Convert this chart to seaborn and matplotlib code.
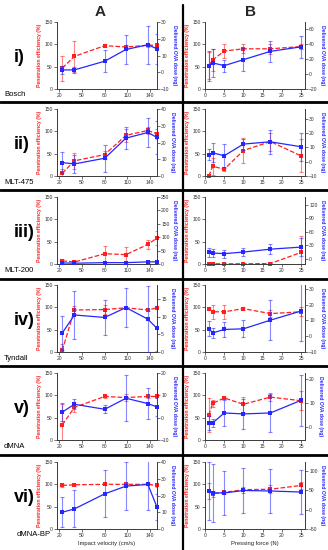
import matplotlib
matplotlib.use("Agg")
import matplotlib.pyplot as plt
import seaborn as sns
import pandas as pd
from matplotlib.lines import Line2D

sns.set_theme(style="white")
plt.rcParams["font.family"] = ["Liberation Sans", "DejaVu Sans"]

# ---------------- data ----------------
velocity = [24, 40, 80, 108, 137, 149]          # impact velocity (cm/s)
force = [1, 2, 5, 10, 17, 25]                    # pressing force (N)
velocity_ticks = [20, 50, 80, 110, 140]
force_ticks = [0, 5, 10, 15, 20, 25]
devices = ["Bosch", "MLT-475", "MLT-200", "Tyndall", "dMNA", "dMNA-BP"]
row_labels = ["i)", "ii)", "iii)", "iv)", "v)", "vi)"]

# Bosch
bosch_pen_A = [47, 73, 97, 94, 98, 98]
bosch_pen_A_err = [28, 34, 3, 4, 3, 3]
bosch_dose_A = [1.4, 1.4, 6.6, 13.6, 16.4, 14]
bosch_dose_A_err = [2.5, 2, 6.6, 8.5, 11.3, 9]
bosch_pen_B = [52, 65, 85, 90, 90, 95]
bosch_pen_B_err = [30, 25, 15, 10, 11, 6]
bosch_dose_B = [11, 14.7, 11, 19, 30, 36]
bosch_dose_B_err = [20, 19, 8, 15.5, 14.4, 14.4]

# MLT-475
mlt475_pen_A = [6, 34, 48, 91, 102, 94]
mlt475_pen_A_err = [9, 18, 9, 15, 7, 11]
mlt475_dose_A = [8, 7.2, 10.6, 22.6, 26, 23]
mlt475_dose_A_err = [6.5, 5.5, 8, 6.5, 8.7, 10]
mlt475_pen_B = [0, 22, 15, 57, 77, 45]
mlt475_pen_B_err = [1, 19, 4, 28, 20, 37]
mlt475_dose_B = [5, 6.3, 4.2, 12.4, 14, 10.5]
mlt475_dose_B_err = [3.7, 6.8, 8, 3.9, 8.5, 9.8]

# MLT-200
mlt200_pen_A = [7, 4.5, 23, 21, 44, 58]
mlt200_pen_A_err = [5, 4, 18, 17, 10, 15]
mlt200_dose_A = [4, 3, 5, 5, 8, 8]
mlt200_dose_A_err = [3, 3, 4, 4, 5, 5]
mlt200_pen_B = [0.5, 0.5, 0.5, 0.5, 1, 26]
mlt200_pen_B_err = [0.5, 0.5, 0.5, 0.5, 1, 37]
mlt200_dose_B = [14, 12.4, 11, 14.6, 21, 25.6]
mlt200_dose_B_err = [10, 8, 9, 9, 11, 20]

# Tyndall
tyndall_pen_A = [4, 94, 95, 99, 94, 99]
tyndall_pen_A_err = [14, 10, 11, 2, 3, 2]
tyndall_dose_A = [5.4, 10.5, 9.8, 12.6, 9.3, 6.7]
tyndall_dose_A_err = [4.8, 6.8, 4.9, 5.5, 9.3, 6.4]
tyndall_pen_B = [97, 90, 90, 97, 86, 90]
tyndall_pen_B_err = [4, 15, 15, 4, 8, 10]
tyndall_dose_B = [4.9, 2.1, 4.3, 4.7, 10.2, 16]
tyndall_dose_B_err = [4.7, 3, 5, 5.5, 12.8, 19]

# dMNA
dmna_pen_A = [34, 73, 97.5, 95, 97.5, 97.5]
dmna_pen_A_err = [47, 11, 4, 7, 4, 4]
dmna_dose_A = [2.5, 6, 3.75, 8.7, 6.3, 4.8]
dmna_dose_A_err = [4, 2.2, 1.8, 10.3, 6.8, 4.1]
dmna_pen_B = [56, 82, 94, 80, 96, 88]
dmna_pen_B_err = [37, 7, 3, 17, 9, 21]
dmna_dose_B = [1.8, 1.8, 5.9, 5.5, 5.9, 11.1]
dmna_dose_B_err = [2.7, 1.8, 5.5, 6, 7.9, 10.5]

# dMNA-BP
dmnabp_pen_A = [97.5, 99, 100, 100, 100, 97.5]
dmnabp_pen_A_err = [3, 2, 2, 2, 2, 3]
dmnabp_dose_A = [10, 12, 21, 25.6, 26.6, 13]
dmnabp_dose_A_err = [9, 11, 14, 14.5, 15, 7.6]
dmnabp_pen_B = [85, 79, 82, 88, 89, 97.5]
dmnabp_pen_B_err = [17, 7, 4, 7, 9, 7]
dmnabp_dose_B = [48.7, 44, 43.5, 50, 48.7, 46]
dmnabp_dose_B_err = [75, 76, 56, 59, 56, 58]

panels_A = [
    (bosch_pen_A, bosch_pen_A_err, bosch_dose_A, bosch_dose_A_err),
    (mlt475_pen_A, mlt475_pen_A_err, mlt475_dose_A, mlt475_dose_A_err),
    (mlt200_pen_A, mlt200_pen_A_err, mlt200_dose_A, mlt200_dose_A_err),
    (tyndall_pen_A, tyndall_pen_A_err, tyndall_dose_A, tyndall_dose_A_err),
    (dmna_pen_A, dmna_pen_A_err, dmna_dose_A, dmna_dose_A_err),
    (dmnabp_pen_A, dmnabp_pen_A_err, dmnabp_dose_A, dmnabp_dose_A_err),
]
panels_B = [
    (bosch_pen_B, bosch_pen_B_err, bosch_dose_B, bosch_dose_B_err),
    (mlt475_pen_B, mlt475_pen_B_err, mlt475_dose_B, mlt475_dose_B_err),
    (mlt200_pen_B, mlt200_pen_B_err, mlt200_dose_B, mlt200_dose_B_err),
    (tyndall_pen_B, tyndall_pen_B_err, tyndall_dose_B, tyndall_dose_B_err),
    (dmna_pen_B, dmna_pen_B_err, dmna_dose_B, dmna_dose_B_err),
    (dmnabp_pen_B, dmnabp_pen_B_err, dmnabp_dose_B, dmnabp_dose_B_err),
]

# right-axis (dose) scales
dose_lim_A = [(-10, 30), (0, 40), (0, 250), (0, 19), (-10, 20), (0, 40)]
dose_ticks_A = [[-10, 0, 10, 20, 30], [0, 10, 20, 30, 40], [0, 50, 100, 150, 200, 250],
                [0, 5, 10, 15], [-10, 0, 10, 20], [0, 10, 20, 30, 40]]
dose_lim_B = [(-20, 69), (-10, 37), (-12, 137), (-10, 32.5), (-5.2, 22.3), (-50, 124)]
dose_ticks_B = [[-20, 0, 20, 40, 60], [-10, 0, 10, 20, 30], [0, 30, 60, 90, 120],
                [-10, 0, 10, 20, 30], [0, 10, 20], [-50, 0, 50, 100]]

# ---------------- style / layout ----------------
RED = "#ff1f1f"
BLUE = "#2626ff"
SPINE = "#3a3a3a"
W, H = 328, 550
row_tops = [22, 109, 197, 285, 373, 462]
ax_h = 67
ax_w = 100
col_left = [57, 205]
sep_lines = [102, 190, 279, 366, 455]

fig = plt.figure(figsize=(W / 100, H / 100), dpi=100)
fig.patch.set_facecolor("white")


def style_axis(ax, side):
    for s in ["top", "left", "right", "bottom"]:
        ax.spines[s].set_visible(False)
    if side == "left":
        ax.spines["left"].set_visible(True)
        ax.spines["bottom"].set_visible(True)
    else:
        ax.spines["right"].set_visible(True)
    for s in ax.spines.values():
        s.set_color(SPINE)
        s.set_linewidth(0.7)
    ax.tick_params(axis="both", which="both", labelsize=3.6, length=2, width=0.5,
                   pad=1, colors=SPINE, labelcolor="#333333")
    ax.grid(False)
    ax.set_facecolor("none")


def draw_panel(left, top, x, pen, pen_err, dose, dose_err, xlim, xticks,
               dlim, dticks, xlabel=None):
    ax = fig.add_axes([left / W, 1 - (top + ax_h) / H, ax_w / W, ax_h / H])
    ax2 = ax.twinx()
    style_axis(ax, "left")
    style_axis(ax2, "right")
    ax.tick_params(axis="y", left=True, right=False)
    ax.tick_params(axis="x", bottom=True)
    ax2.tick_params(axis="y", right=True, left=False)

    # penetration efficiency (left axis)
    ax.errorbar(x, pen, yerr=pen_err, fmt="none", ecolor=RED, elinewidth=0.8,
                capsize=1.4, capthick=0.8, alpha=0.55)
    sns.lineplot(x=x, y=pen, ax=ax, color=RED, linestyle="--", linewidth=0.9,
                 marker="s", markersize=2.6, markeredgewidth=0, sort=False,
                 clip_on=False)
    # delivered dose (right axis)
    ax2.errorbar(x, dose, yerr=dose_err, fmt="none", ecolor=BLUE, elinewidth=0.8,
                 capsize=1.4, capthick=0.8, alpha=0.55)
    sns.lineplot(x=x, y=dose, ax=ax2, color=BLUE, linestyle="-", linewidth=0.9,
                 marker="s", markersize=2.6, markeredgewidth=0, sort=False,
                 clip_on=False)

    ax.set_xlim(*xlim)
    ax.set_xticks(xticks)
    ax.set_ylim(0, 150)
    ax.set_yticks([0, 50, 100, 150])
    ax2.set_ylim(*dlim)
    ax2.set_yticks(dticks)

    ax.set_ylabel("Penetration efficiency (%)", color=RED, fontsize=3.7,
                  fontweight="bold", labelpad=1.5)
    ax2.set_ylabel("Delivered OVA dose (ng)", color=BLUE, fontsize=3.7,
                   fontweight="bold", rotation=270, va="bottom", labelpad=2)
    if xlabel:
        ax.set_xlabel(xlabel, fontsize=4.2, labelpad=2, color="#222222")
    else:
        ax.set_xlabel("")


for i in range(6):
    top = row_tops[i]
    pA = panels_A[i]
    pB = panels_B[i]
    draw_panel(col_left[0], top, velocity, *pA, (17, 149), velocity_ticks,
               dose_lim_A[i], dose_ticks_A[i],
               xlabel="Impact velocity (cm/s)" if i == 5 else None)
    draw_panel(col_left[1], top, force, *pB, (0, 26), force_ticks,
               dose_lim_B[i], dose_ticks_B[i],
               xlabel="Pressing force (N)" if i == 5 else None)
    fig.text(14 / W, 1 - (top + ax_h / 2 + 2) / H, row_labels[i], ha="left",
             va="center", fontsize=13, fontweight="bold", color="black")
    name_x = 17 if devices[i] == "dMNA-BP" else 4
    fig.text(name_x / W, 1 - (top + ax_h + 6) / H, devices[i], ha="left",
             va="center", fontsize=5.5, color="black")

# column headers
fig.text(100 / W, 1 - 12.5 / H, "A", ha="center", va="center", fontsize=11,
         fontweight="bold")
fig.text(250 / W, 1 - 12.5 / H, "B", ha="center", va="center", fontsize=11,
         fontweight="bold")

# separators
for y in sep_lines:
    fig.add_artist(Line2D([0, 1], [1 - y / H, 1 - y / H], color="black",
                          linewidth=2.0, transform=fig.transFigure))
fig.add_artist(Line2D([183 / W, 183 / W], [1 - 5 / H, 0], color="black",
                      linewidth=1.6, transform=fig.transFigure))

fig.savefig("out.png", dpi=100, facecolor="white")
